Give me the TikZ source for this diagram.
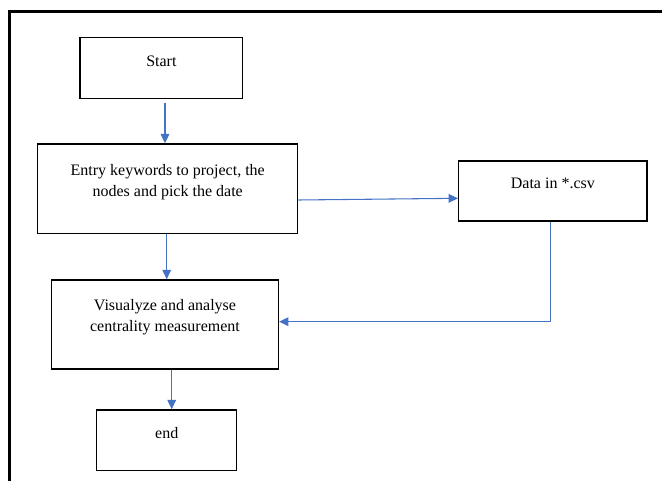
\documentclass[tikz,border=0pt]{standalone}
\usepackage{fontspec}
\setmainfont{Liberation Serif}
\usetikzlibrary{arrows.meta,calc}
\definecolor{arrblue}{HTML}{4472C4}
\tikzset{
  box/.style={draw=black, line width=1.1pt, rectangle, inner sep=0pt},
  txt/.style={align=center, inner sep=0pt, font=\fontsize{12}{15.6}\selectfont},
  flow/.style={draw=arrblue, line width=0.8pt, -{Triangle[width=6.5pt,length=7pt]}},
  frame/.style={draw=black, line width=2.4pt}
}
\begin{document}
\begin{tikzpicture}[x=0.75pt,y=-0.75pt]
\useasboundingbox (0,0) rectangle (662,481);
% frame
\coordinate (fbl) at (9.3,490);
\coordinate (ftl) at (9.3,11.7);
\coordinate (ftr) at (670,11.7);
\draw[frame] (fbl) -- (ftl) -- (ftr);
% boxes
\node[box, minimum width=122pt, minimum height=45.5pt] (start) at (161.4,68) {};
\node[box, minimum width=195pt, minimum height=67pt] (entry) at (167.7,188.7) {};
\node[box, minimum width=141.2pt, minimum height=45pt] (data) at (552.85,191) {};
\node[box, minimum width=170pt, minimum height=66.8pt] (vis) at (165,324.5) {};
\node[box, minimum width=105pt, minimum height=45.5pt] (end) at (166.7,440.3) {};
% texts
\node[txt] (startt) at ($(start.center)+(0,-7)$) {Start};
\node[txt] (entryt) at ($(entry.center)+(0,-6.2)$) {Entry keywords to project, the\\nodes and pick the date};
\node[txt] (datat) at ($(data.center)+(0,-8)$) {Data in *.csv};
\node[txt] (vist) at ($(vis.center)+(0,-7)$) {Visualyze and analyse\\centrality measurement};
\node[txt] (endt) at ($(end.center)+(0,-7.6)$) {end};
% connectors
\coordinate (a1) at ($(start.south)+(3.6,4)$);
\draw[flow] (a1) -- (a1 |- entry.north);
\coordinate (a2) at ($(entry.east)+(0,11.3)$);
\coordinate (a2e) at ($(data.west)+(0,7.3)$);
\draw[flow] (a2) -- (a2e);
\coordinate (a3) at ($(entry.south)+(-1,0)$);
\draw[flow] (a3) -- (a3 |- vis.north);
\coordinate (a4) at ($(data.south)+(-2.5,0)$);
\coordinate (a4e) at ($(vis.east)+(0,-2.8)$);
\draw[flow] (a4) |- (a4e);
\coordinate (a5) at ($(vis.south)+(6.7,0)$);
\draw[flow] (a5) -- (a5 |- end.north);
\end{tikzpicture}
\end{document}
